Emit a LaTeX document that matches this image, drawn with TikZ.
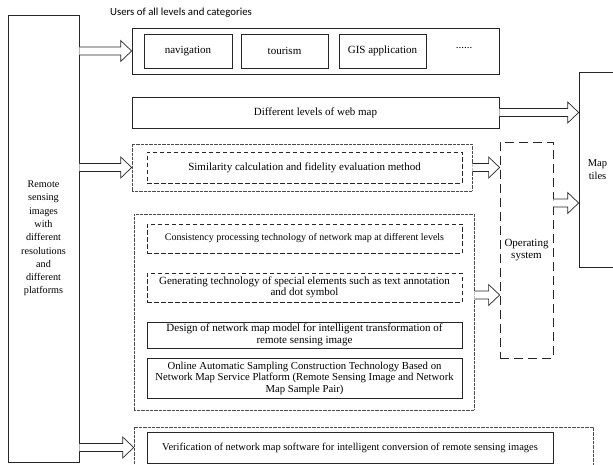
\documentclass[tikz,border=0pt]{standalone}
\usepackage{fontspec}
\setmainfont{Liberation Serif}
\newfontfamily\calibfont{Carlito}
\usetikzlibrary{calc}
\tikzset{
  solidbox/.style={draw=black!85, line width=0.7pt, inner sep=0pt, align=center,
    font=\fontsize{11}{11.5}\selectfont},
  dashbox/.style={solidbox, dash pattern=on 4.5pt off 2.5pt, line width=0.8pt},
  dotbox/.style={draw=black!70, line width=0.6pt, dash pattern=on 0.7pt off 0.6pt, inner sep=0pt},
  osbox/.style={solidbox, dash pattern=on 9pt off 5pt, line width=0.8pt},
  plain/.style={inner sep=0pt, align=center, font=\fontsize{11}{11.5}\selectfont},
  hollow/.style={draw=black!85, line width=0.7pt, fill=white, line join=miter},
}
\newcommand{\hollowarrow}[2]{%
  \draw[hollow] let \p1=(#1), \p2=(#2) in
    (\x1,\y1+4pt) -- (\x2-11pt,\y1+4pt) -- (\x2-11pt,\y1+10.5pt) -- (\x2,\y1)
    -- (\x2-11pt,\y1-10.5pt) -- (\x2-11pt,\y1-4pt) -- (\x1,\y1-4pt);}
\begin{document}
\begin{tikzpicture}[x=1pt,y=-1pt]
\clip (0,0) rectangle (613,465);
\fill[white] (0,0) rectangle (613,465);

% left source box
\node[solidbox, minimum width=71pt, minimum height=447pt, font=\fontsize{10.2}{13.3}\selectfont]
  (left) at (43.5,238.5) {Remote\\sensing\\images\\with\\different\\resolutions\\and\\different\\platforms};

% users
\node[plain, font=\calibfont\fontsize{10.8}{12}\selectfont] (title) at (181,13) {Users of all levels and categories};
\node[solidbox, minimum width=367pt, minimum height=46pt] (users) at (315.5,51) {};
\node[solidbox, minimum width=88pt, minimum height=34pt] (nav) at (188,51) {navigation};
\node[solidbox, minimum width=87pt, minimum height=34pt] (tour) at (284.5,51) {tourism};
\node[solidbox, minimum width=87pt, minimum height=34pt] (gis) at (382.5,51) {GIS application};
\node[plain] (more) at (464,48) {......};

% web map
\node[solidbox, minimum width=367pt, minimum height=31pt] (diff) at (315.5,112.5) {Different levels of web map};

% map tiles
\node[solidbox, minimum width=37pt, minimum height=195pt, font=\fontsize{10.5}{13.5}\selectfont]
  (map) at (597.5,169.5) {Map\\tiles};

% similarity
\node[dotbox, minimum width=340pt, minimum height=47pt] (simout) at (302,167.5) {};
\node[dashbox, minimum width=315pt, minimum height=31pt] (sim) at (304.5,167.5)
  {Similarity calculation and fidelity evaluation method};

% operating system
\node[osbox, minimum width=53pt, minimum height=216pt, font=\fontsize{11}{12}\selectfont]
  (os) at (526.5,250) {Operating\\system};

% big group
\node[dotbox, minimum width=340pt, minimum height=196pt] (big) at (304,312) {};
\node[dashbox, minimum width=315pt, minimum height=29pt, font=\fontsize{10}{11.5}\selectfont] (cons) at (304.5,238.5)
  {Consistency processing technology of network map at different levels};
\node[dashbox, minimum width=315pt, minimum height=29pt] (gen) at (304.5,287.5)
  {Generating technology of special elements such as text annotation\\and dot symbol};
\node[solidbox, minimum width=315pt, minimum height=26pt] (design) at (304.5,335)
  {Design of network map model for intelligent transformation of\\remote sensing image};
\node[solidbox, minimum width=315pt, minimum height=40pt, font=\fontsize{10.7}{11.5}\selectfont] (online) at (304.5,378)
  {Online Automatic Sampling Construction Technology Based on\\Network Map Service Platform (Remote Sensing Image and Network\\Map Sample Pair)};

% verification
\node[dotbox, minimum width=459pt, minimum height=48pt] (verout) at (363.5,451) {};
\node[solidbox, minimum width=406pt, minimum height=31pt, font=\fontsize{10.5}{11.5}\selectfont] (ver) at (350,447.5)
  {Verification of network map software for intelligent conversion of remote sensing images};

% arrows
\coordinate (p6) at (big.east |- 0,295);
\coordinate (p7) at (os.east |- 0,203);
\hollowarrow{left.east |- users.west}{users.west}
\hollowarrow{left.east |- simout.west}{simout.west}
\hollowarrow{left.east |- ver.west}{verout.west |- ver.west}
\hollowarrow{diff.east}{map.west |- diff.east}
\hollowarrow{simout.east}{os.west |- simout.east}
\hollowarrow{p6}{os.west |- p6}
\hollowarrow{p7}{map.west |- p7}
\end{tikzpicture}
\end{document}
